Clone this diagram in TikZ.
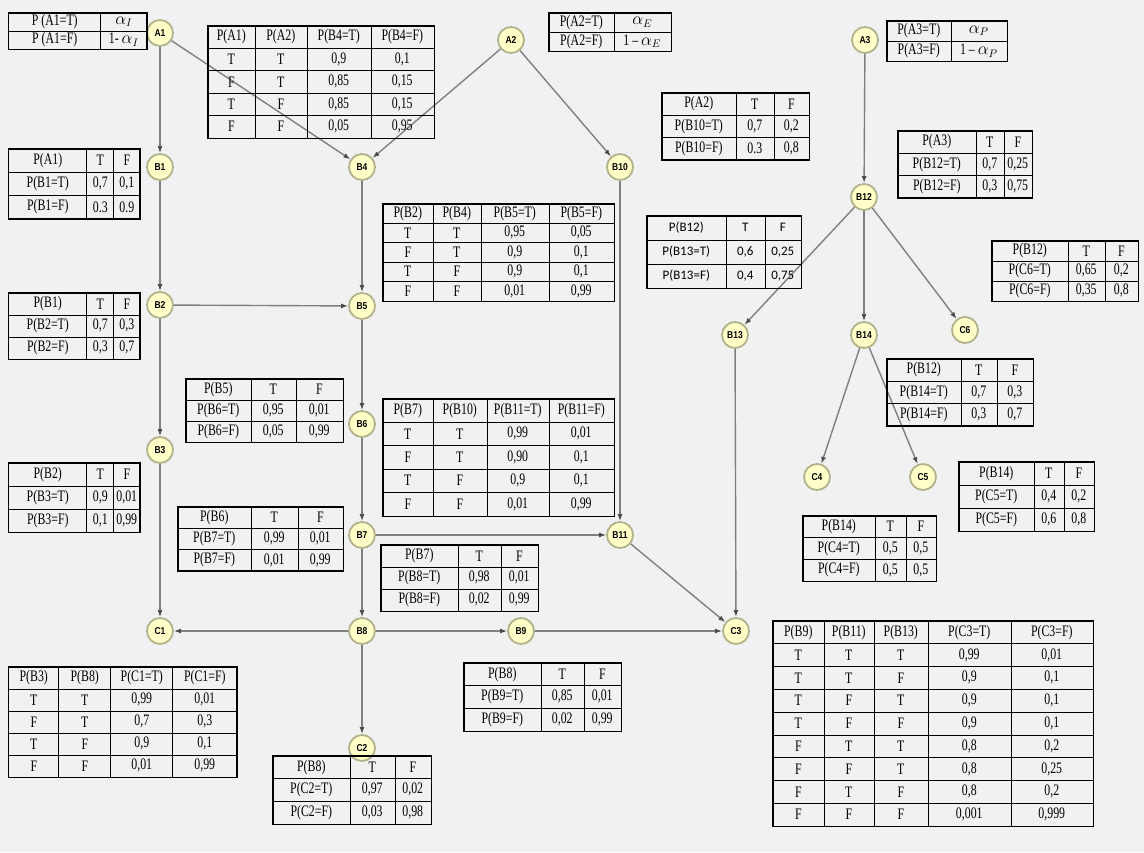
\documentclass[tikz,border=0pt]{standalone}
\usepackage{fontspec}
\setmainfont{Liberation Serif}[FakeStretch=0.74]
\newfontfamily\lblfont{Liberation Sans}[FakeStretch=0.85]
\newfontfamily\calfont{Carlito}
\usetikzlibrary{matrix,arrows.meta}
\definecolor{bgcol}{RGB}{241,241,241}
\definecolor{nodefill}{RGB}{255,255,200}
\definecolor{nodering}{RGB}{178,178,140}
\definecolor{linkcol}{RGB}{128,128,128}
\begin{document}
\begin{tikzpicture}[
    x=1pt, y=-1pt,
    font=\fontsize{16}{17}\selectfont,
    bn/.style={circle, draw=nodering, line width=1.8pt, fill=nodefill, minimum size=26pt, inner sep=0pt,
      font=\lblfont\bfseries\fontsize{10}{11}\selectfont},
    link/.style={draw=linkcol, line width=1.4pt, -{Latex[length=7pt,width=5pt,color=black!70]}},
    cpt/.style={matrix of nodes, anchor=north west, inner sep=0pt, draw, line width=1pt,
      column sep=-0.6pt, row sep=-0.6pt,
      nodes={draw, line width=0.6pt, inner sep=0pt, minimum height=#1, anchor=center}},
    cw/.style 2 args={column #1/.style={nodes={minimum width=#2}}}
  ]
  \fill[bgcol] (0,0) rectangle (1144,852);

  % variables
  \foreach \n/\x/\y in {A1/160/33, A2/511/40, A3/865/40,
      B1/160/167, B4/362/167, B10/620/167, B12/864/197,
      B2/160/305, B5/362/306, B13/735/335, B14/864/335, C6/965/330,
      B3/160/450, B6/362/424, C4/817/477, C5/923/477,
      B7/362/535, B11/620/535,
      C1/160/631, B8/362/631, B9/521/631, C3/736/631, C2/362/748}
    \node[bn] (\n) at (\x,\y) {\n};

  % dependencies
  \foreach \a/\b in {A1/B1, A1/B4, A2/B4, A2/B10, A3/B12,
      B1/B2, B2/B5, B2/B3, B4/B5, B5/B6, B6/B7, B7/B8, B7/B11, B10/B11,
      B3/C1, B8/C1, B8/C2, B8/B9, B9/C3, B11/C3, B13/C3,
      B12/B13, B12/B14, B12/C6, B14/C4, B14/C5}
    \draw[link] (\a) -- (\b);

  % priors
  \matrix (tA1) [cpt=18pt, cw={1}{92pt}, cw={2}{46pt}] at (8,12) {
    P (A1=T) & $\alpha_I$ \\
    P (A1=F) & 1- $\alpha_I$ \\
  };
  \matrix (tA2) [cpt=19pt, cw={1}{65pt}, cw={2}{57pt}] at (548,12) {
    P(A2=T) & $\alpha_E$ \\
    P(A2=F) & 1 -- $\alpha_E$ \\
  };
  \matrix (tA3) [cpt=20pt, cw={1}{64pt}, cw={2}{56pt}] at (886,20) {
    P(A3=T) & $\alpha_P$ \\
    P(A3=F) & 1 -- $\alpha_P$ \\
  };

  % conditional tables
  \matrix (tB4) [cpt=22.4pt, cw={1}{47pt}, cw={2}{52pt}, cw={3}{64pt}, cw={4}{63pt}] at (207,25) {
    P(A1) & P(A2) & P(B4=T) & P(B4=F) \\
    T & T & 0,9 & 0,1 \\
    F & T & 0,85 & 0,15 \\
    T & F & 0,85 & 0,15 \\
    F & F & 0,05 & 0,95 \\
  };
  \matrix (tB10) [cpt=22.3pt, cw={1}{74pt}, cw={2}{38pt}, cw={3}{35pt}] at (661,92) {
    P(A2) & T & F \\
    P(B10=T) & 0,7 & 0,2 \\
    P(B10=F) & 0.3 & 0,8 \\
  };
  \matrix (tB12) [cpt=22.3pt, cw={1}{78pt}, cw={2}{28pt}, cw={3}{28pt}] at (897,130) {
    P(A3) & T & F \\
    P(B12=T) & 0,7 & 0,25 \\
    P(B12=F) & 0,3 & 0,75 \\
  };
  \matrix (tB1) [cpt=23.3pt, cw={1}{78pt}, cw={2}{27pt}, cw={3}{26pt}] at (8,148) {
    P(A1) & T & F \\
    P(B1=T) & 0,7 & 0,1 \\
    P(B1=F) & 0.3 & 0.9 \\
  };
  \matrix (tB5) [cpt=19.4pt, cw={1}{50pt}, cw={2}{48pt}, cw={3}{68pt}, cw={4}{65pt}] at (382,203) {
    P(B2) & P(B4) & P(B5=T) & P(B5=F) \\
    T & T & 0,95 & 0,05 \\
    F & T & 0,9 & 0,1 \\
    T & F & 0,9 & 0,1 \\
    F & F & 0,01 & 0,99 \\
  };
  \matrix (tB13) [cpt=24pt, cw={1}{79pt}, cw={2}{39pt}, cw={3}{36pt},
      nodes={font=\calfont\fontsize{13}{14}\selectfont}] at (646,215) {
    P(B12) & T & F \\
    P(B13=T) & 0,6 & 0,25 \\
    P(B13=F) & 0,4 & 0,75 \\
  };
  \matrix (tC6) [cpt=20pt, cw={1}{76pt}, cw={2}{37pt}, cw={3}{33pt}] at (991,240) {
    P(B12) & T & F \\
    P(C6=T) & 0,65 & 0,2 \\
    P(C6=F) & 0,35 & 0,8 \\
  };
  \matrix (tB2) [cpt=22pt, cw={1}{78pt}, cw={2}{27pt}, cw={3}{26pt}] at (8,292) {
    P(B1) & T & F \\
    P(B2=T) & 0,7 & 0,3 \\
    P(B2=F) & 0,3 & 0,7 \\
  };
  \matrix (tB14) [cpt=22.3pt, cw={1}{74pt}, cw={2}{36pt}, cw={3}{36pt}] at (886,358) {
    P(B12) & T & F \\
    P(B14=T) & 0,7 & 0,3 \\
    P(B14=F) & 0,3 & 0,7 \\
  };
  \matrix (tB6) [cpt=21pt, cw={1}{65pt}, cw={2}{45pt}, cw={3}{47pt}] at (185,378) {
    P(B5) & T & F \\
    P(B6=T) & 0,95 & 0,01 \\
    P(B6=F) & 0,05 & 0,99 \\
  };
  \matrix (tB11) [cpt=23.4pt, cw={1}{50pt}, cw={2}{54pt}, cw={3}{62pt}, cw={4}{65pt}] at (382,398) {
    P(B7) & P(B10) & P(B11=T) & P(B11=F) \\
    T & T & 0,99 & 0,01 \\
    F & T & 0,90 & 0,1 \\
    T & F & 0,9 & 0,1 \\
    F & F & 0,01 & 0,99 \\
  };
  \matrix (tB3) [cpt=23pt, cw={1}{78pt}, cw={2}{27pt}, cw={3}{26pt}] at (8,462) {
    P(B2) & T & F \\
    P(B3=T) & 0,9 & 0,01 \\
    P(B3=F) & 0,1 & 0,99 \\
  };
  \matrix (tB7) [cpt=21.3pt, cw={1}{73pt}, cw={2}{47pt}, cw={3}{45pt}] at (177,506) {
    P(B6) & T & F \\
    P(B7=T) & 0,99 & 0,01 \\
    P(B7=F) & 0,01 & 0,99 \\
  };
  \matrix (tC5) [cpt=23pt, cw={1}{75pt}, cw={2}{30pt}, cw={3}{30pt}] at (958,461) {
    P(B14) & T & F \\
    P(C5=T) & 0,4 & 0,2 \\
    P(C5=F) & 0,6 & 0,8 \\
  };
  \matrix (tC4) [cpt=21.7pt, cw={1}{72pt}, cw={2}{31pt}, cw={3}{30pt}] at (802,515) {
    P(B14) & T & F \\
    P(C4=T) & 0,5 & 0,5 \\
    P(C4=F) & 0,5 & 0,5 \\
  };
  \matrix (tB8) [cpt=22pt, cw={1}{77pt}, cw={2}{43pt}, cw={3}{37pt}] at (380,544) {
    P(B7) & T & F \\
    P(B8=T) & 0,98 & 0,01 \\
    P(B8=F) & 0,02 & 0,99 \\
  };
  \matrix (tC1) [cpt=22pt, cw={1}{50pt}, cw={2}{52pt}, cw={3}{62pt}, cw={4}{64pt}] at (8,666) {
    P(B3) & P(B8) & P(C1=T) & P(C1=F) \\
    T & T & 0,99 & 0,01 \\
    F & T & 0,7 & 0,3 \\
    T & F & 0,9 & 0,1 \\
    F & F & 0,01 & 0,99 \\
  };
  \matrix (tB9) [cpt=22.7pt, cw={1}{77pt}, cw={2}{43pt}, cw={3}{37pt}] at (463,662) {
    P(B8) & T & F \\
    P(B9=T) & 0,85 & 0,01 \\
    P(B9=F) & 0,02 & 0,99 \\
  };
  \matrix (tC2) [cpt=22.7pt, cw={1}{77pt}, cw={2}{45pt}, cw={3}{36pt}] at (272,755) {
    P(B8) & T & F \\
    P(C2=T) & 0,97 & 0,02 \\
    P(C2=F) & 0,03 & 0,98 \\
  };
  \matrix (tC3) [cpt=22.8pt, cw={1}{51pt}, cw={2}{50pt}, cw={3}{54pt}, cw={4}{83pt}, cw={5}{82pt}] at (772,620) {
    P(B9) & P(B11) & P(B13) & P(C3=T) & P(C3=F) \\
    T & T & T & 0,99 & 0,01 \\
    T & T & F & 0,9 & 0,1 \\
    T & F & T & 0,9 & 0,1 \\
    T & F & F & 0,9 & 0,1 \\
    F & T & T & 0,8 & 0,2 \\
    F & F & T & 0,8 & 0,25 \\
    F & T & F & 0,8 & 0,2 \\
    F & F & F & 0,001 & 0,999 \\
  };
\end{tikzpicture}
\end{document}
